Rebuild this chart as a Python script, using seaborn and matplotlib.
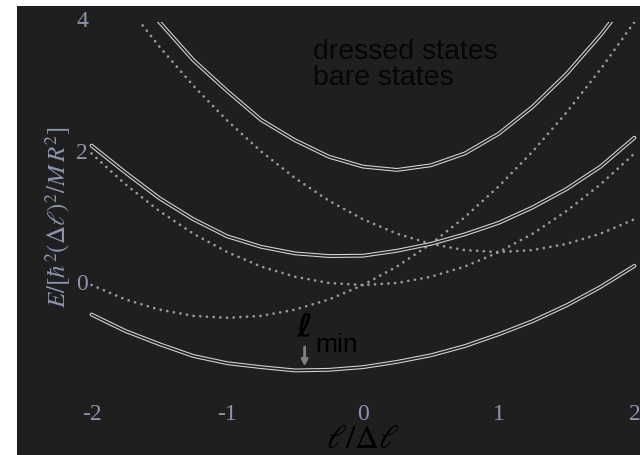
import matplotlib
matplotlib.use("Agg")
import matplotlib.pyplot as plt
import seaborn as sns
from matplotlib.patches import Rectangle

# values
ell = [-2.0, -1.75, -1.5, -1.25, -1.0, -0.75, -0.5, -0.25, 0.0,
       0.25, 0.5, 0.75, 1.0, 1.25, 1.5, 1.75, 2.0]

# bare states (dotted)
bare_m1 = [0.0, -0.22, -0.375, -0.47, -0.5, -0.47, -0.375, -0.22, 0.0,
           0.28, 0.625, 1.03, 1.5, 2.03, 2.625, 3.28, 4.0]
bare_0 = [2.0, 1.53, 1.125, 0.78, 0.5, 0.28, 0.125, 0.03, 0.0,
          0.03, 0.125, 0.28, 0.5, 0.78, 1.125, 1.53, 2.0]
bare_p1 = [5.0, 4.28, 3.625, 3.03, 2.5, 2.03, 1.625, 1.28, 1.0,
           0.78, 0.625, 0.53, 0.5, 0.53, 0.625, 0.78, 1.0]

# dressed states (solid)
dressed_1 = [-0.45, -0.70, -0.90, -1.08, -1.19, -1.25, -1.30, -1.29, -1.25,
             -1.17, -1.07, -0.93, -0.75, -0.55, -0.31, -0.03, 0.29]
dressed_2 = [2.12, 1.71, 1.32, 1.00, 0.74, 0.58, 0.48, 0.44, 0.445,
             0.52, 0.625, 0.77, 0.945, 1.18, 1.46, 1.80, 2.24]
dressed_3 = [5.33, 4.59, 4.0, 3.42, 2.95, 2.51, 2.20, 1.95, 1.80,
             1.75, 1.82, 2.00, 2.30, 2.71, 3.21, 3.80, 4.46]

x_ticks = [-2, -1, 0, 1, 2]
y_ticks = [0, 2, 4]
e_top = 4.0        # plot range cut-off
ell_min = -0.43    # position of the arrow

bg = "#1f1f1f"
tick_col = "#8e94ae"

sns.set_style("dark")
plt.rcParams["font.family"] = ["Liberation Serif", "DejaVu Serif"]
plt.rcParams["mathtext.fontset"] = "stix"

fig = plt.figure(figsize=(6.4, 4.55), dpi=100, facecolor="white")
ax = fig.add_axes([17 / 640, 0, 623 / 640, 449 / 455])
ax.set_facecolor(bg)
ax.set_xlim(-2.549, 2.041)
ax.set_ylim(-2.586, 4.243)
ax.set_xticks([])
ax.set_yticks([])
for s in ax.spines.values():
    s.set_visible(False)

clip = Rectangle((-3, -3), 6, e_top + 3, transform=ax.transData)

# bare states: dotted
for ys in [bare_m1, bare_0, bare_p1]:
    sns.lineplot(x=ell, y=ys, ax=ax, color="#999999", lw=2.0,
                 linestyle=(0, (0.01, 2.4)), dash_capstyle="round",
                 estimator=None, sort=False)
    ax.lines[-1].set_clip_path(clip)

# dressed states: hollow double line
for ys in [dressed_1, dressed_2, dressed_3]:
    sns.lineplot(x=ell, y=ys, ax=ax, color="#d2d2d2", lw=2.8,
                 estimator=None, sort=False)
    ax.lines[-1].set_clip_path(clip)
    sns.lineplot(x=ell, y=ys, ax=ax, color=bg, lw=1.2,
                 estimator=None, sort=False)
    ax.lines[-1].set_clip_path(clip)

# tick labels drawn inside the frame
for t in x_ticks:
    ax.text(t, -1.977, "-%d" % abs(t) if t < 0 else str(t), color=tick_col,
            fontsize=17, ha="center", va="center")
for t in y_ticks:
    ax.text(-2.07, t, str(t), color=tick_col, fontsize=17,
            ha="center", va="center")

ax.text(-2.247, 1.03, r"$E/[\hbar^2(\Delta\ell)^2/M\,R^2]$", color=tick_col,
        fontsize=18, rotation=90, ha="center", va="center")
ax.text(0.0, -2.58, r"$\ell/\Delta\ell$", color="black", fontsize=24,
        ha="center", va="bottom")

ax.text(-0.368, 3.437, "dressed states", color="#060606", fontsize=20.5,
        family="Liberation Sans", va="baseline")
ax.text(-0.368, 3.04, "bare states", color="#060606", fontsize=20.5,
        family="Liberation Sans", va="baseline")

ax.text(ell_min, -0.65, "ℓ", color="black", fontsize=24,
        family=["DejaVu Sans"], fontweight="bold", style="italic",
        ha="center", va="center")
ax.text(-0.354, -1.02, "min", color="black", fontsize=19,
        family="Liberation Sans", va="baseline")
ax.annotate("", xy=(ell_min, -1.28), xytext=(ell_min, -0.9),
            arrowprops=dict(arrowstyle="-|>", color="#808080", lw=2.0,
                            mutation_scale=9))

fig.savefig("out.png", dpi=100, facecolor="white")
